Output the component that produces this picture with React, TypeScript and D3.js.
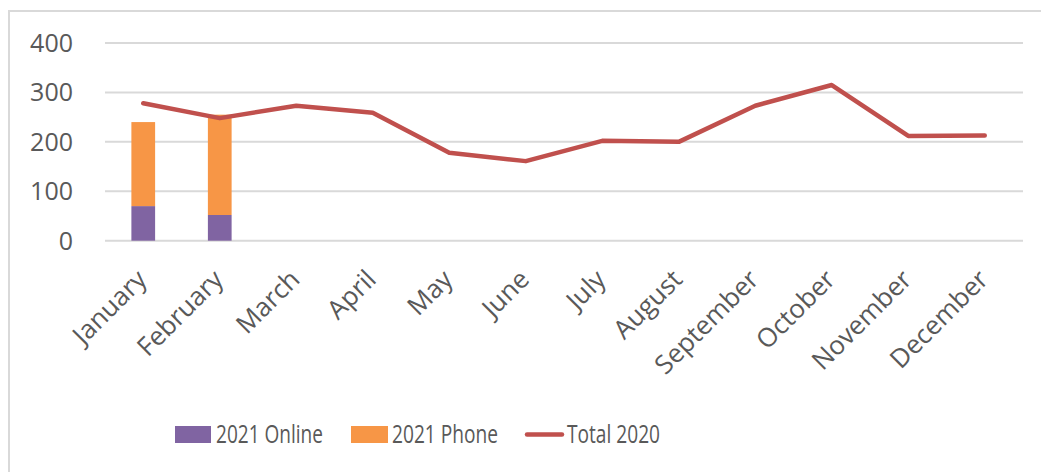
import React from 'react';
import * as d3 from 'd3';

const months = ['January', 'February', 'March', 'April', 'May', 'June', 'July', 'August', 'September', 'October', 'November', 'December'];
const online2021 = [70, 52];
const phone2021 = [170, 203];
const total2020 = [278, 248, 273, 259, 178, 161, 202, 200, 273, 315, 212, 213];
const yTicks = [0, 100, 200, 300, 400];

const W = 1041;
const H = 472;
const left = 105;
const right = 1023;
const top = 43;
const bottom = 240.7;

function App() {
    const x = d3.scaleBand().domain(months).range([left, right]).paddingInner(0.69).paddingOuter(0.345);
    const xc = (m: string) => (x(m) as number) + x.bandwidth() / 2;
    const y = d3.scaleLinear().domain([0, 400]).range([bottom, top]);

    const line = d3.line<number>()
        .x((d, i) => xc(months[i]))
        .y((d) => y(d));

    const barData = online2021.map((v, i) => ({ month: months[i], online: v, phone: phone2021[i] }));
    const stack = d3.stack<any>().keys(['online', 'phone'])(barData);
    const colors: Record<string, string> = { online: '#8064A2', phone: '#F79646' };

    const axisFont = '"Open Sans", "DejaVu Sans", sans-serif';

    return (
        <svg width={W} height={H} style={{ position: 'absolute', left: 0, top: 0, background: '#fff' }}>
            <rect x={9} y={11} width={1100} height={500} fill="#fff" stroke="#D9D9D9" strokeWidth={2} />
            {yTicks.map((t) => (
                <g key={t}>
                    <line x1={left} x2={right} y1={y(t)} y2={y(t)} stroke="#D9D9D9" strokeWidth={2} />
                    <text x={73} y={y(t) + 9} textAnchor="end" fontFamily={axisFont} fontSize={25} fill="#595959">{t}</text>
                </g>
            ))}
            {stack.map((s) => (
                <g key={s.key} fill={colors[s.key]}>
                    {s.map((d: any) => (
                        <rect key={d.data.month} x={x(d.data.month)} width={x.bandwidth()} y={y(d[1])} height={y(d[0]) - y(d[1])} />
                    ))}
                </g>
            ))}
            <path d={line(total2020) as string} fill="none" stroke="#C0504D" strokeWidth={4.5} strokeLinejoin="round" strokeLinecap="round" />
            {months.map((m) => (
                <text key={m} transform={`translate(${xc(m) + 5},${281}) rotate(-45)`} textAnchor="end" fontFamily={axisFont} fontSize={26} fill="#595959">{m}</text>
            ))}
            <g fontFamily={axisFont} fontSize={26} fill="#595959">
                <rect x={175} y={426} width={36} height={17} fill="#8064A2" />
                <text x={216} y={443} textLength={107} lengthAdjust="spacingAndGlyphs">2021 Online</text>
                <rect x={351} y={426} width={37} height={17} fill="#F79646" />
                <text x={392} y={443} textLength={106} lengthAdjust="spacingAndGlyphs">2021 Phone</text>
                <line x1={527} x2={562} y1={434.5} y2={434.5} stroke="#C0504D" strokeWidth={4.5} strokeLinecap="round" />
                <text x={567} y={443} textLength={93} lengthAdjust="spacingAndGlyphs">Total 2020</text>
            </g>
        </svg>
    );
}

export default App;
